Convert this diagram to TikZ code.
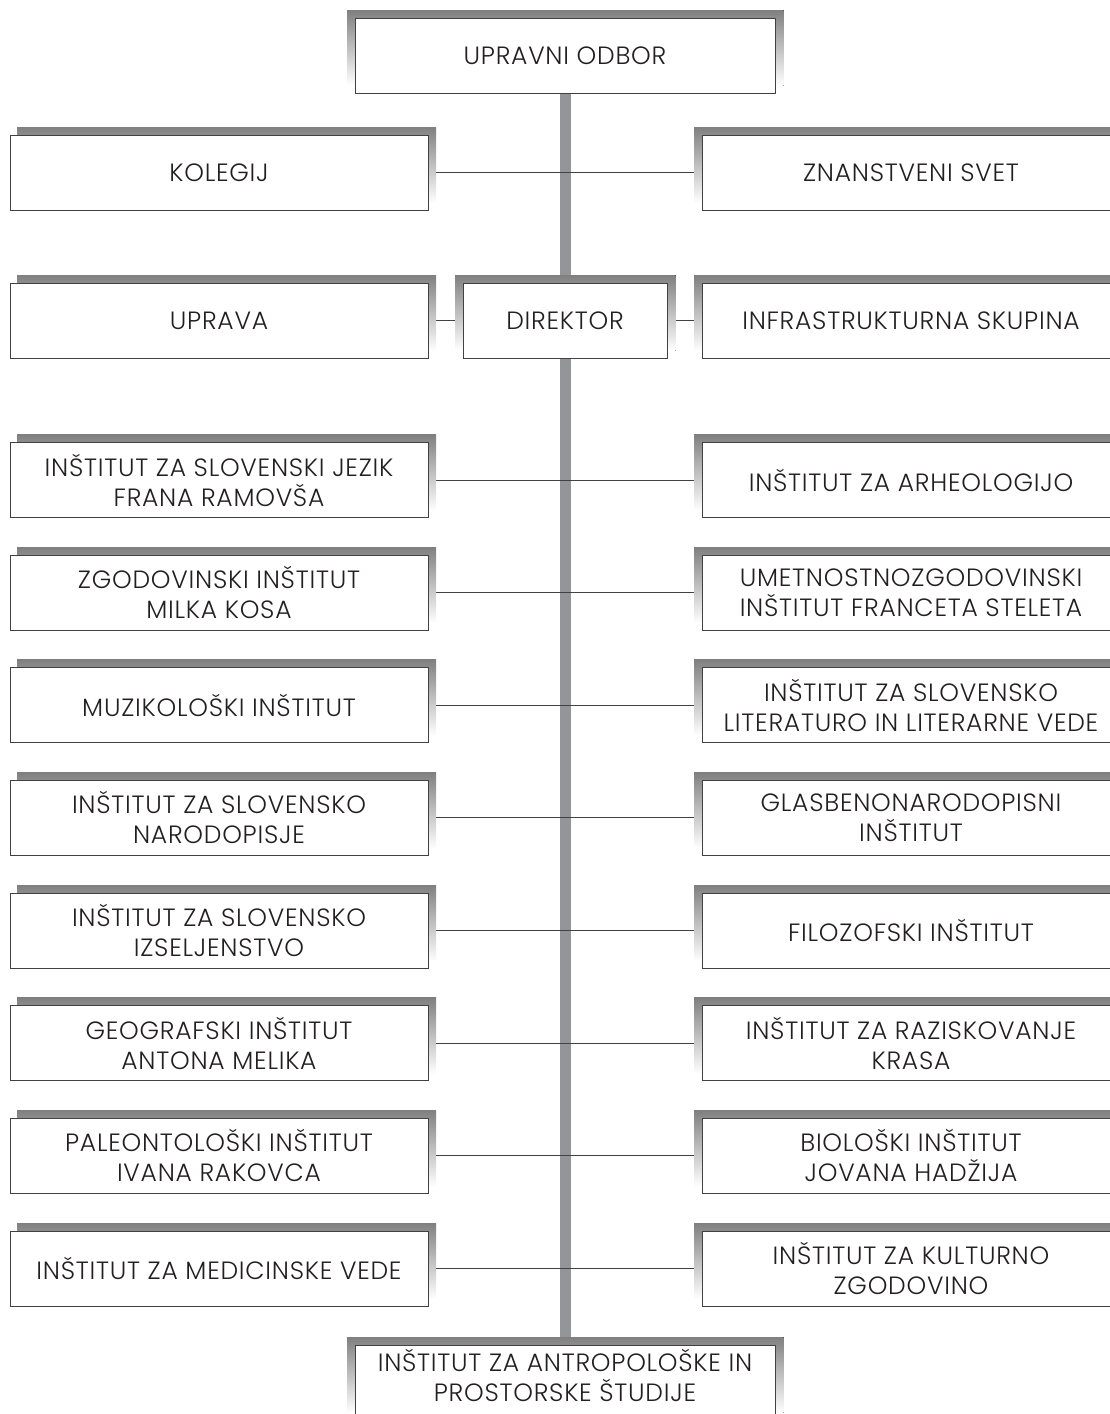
\documentclass[tikz,border=0pt]{standalone}
\usepackage{fontspec}
\setmainfont{Poppins Light}[LetterSpace=3]
\usetikzlibrary{backgrounds}
\definecolor{shade}{HTML}{939598}
\definecolor{boxline}{HTML}{414042}
\definecolor{txt}{HTML}{231F20}
\newcommand{\boxfont}{\fontsize{25}{30}\selectfont}
\tikzset{
  box/.style={draw=boxline, line width=1pt, fill=white, minimum width=418pt,
    minimum height=75pt, inner sep=0pt, align=center, text=txt, font=\boxfont},
  cbox/.style={box, minimum width=420pt},
  dbox/.style={box, minimum width=204pt},
  lbl/.style={inner sep=0pt, align=center, text=txt, font=\boxfont},
  conn/.style={draw=boxline, line width=1pt},
  spine/.style={draw=shade, line width=11pt},
}
\begin{document}
\begin{tikzpicture}[x=1pt,y=-1pt]
\useasboundingbox (0,0) rectangle (1110,1414);
% boxes
\node[cbox] (odbor) at (565,55.5) {UPRAVNI ODBOR};
\node[box] (kolegij) at (219,172.5) {KOLEGIJ};
\node[box] (svet) at (911,172.5) {ZNANSTVENI SVET};
\node[box] (uprava) at (219,320.5) {UPRAVA};
\node[dbox] (direktor) at (565,320.5) {DIREKTOR};
\node[box] (infra) at (911,320.5) {INFRASTRUKTURNA SKUPINA};
\node[box] (l1) at (219,480) {INŠTITUT ZA SLOVENSKI JEZIK\\FRANA RAMOVŠA};
\node[box] (r1) at (911,480) {INŠTITUT ZA ARHEOLOGIJO};
\node[box] (l2) at (219,592.6) {ZGODOVINSKI INŠTITUT\\MILKA KOSA};
\node[box] (r2) at (911,592.6) {UMETNOSTNOZGODOVINSKI\\INŠTITUT FRANCETA STELETA};
\node[box] (l3) at (219,705.3) {MUZIKOLOŠKI INŠTITUT};
\node[box] (r3) at (911,705.3) {INŠTITUT ZA SLOVENSKO\\LITERATURO IN LITERARNE VEDE};
\node[box] (l4) at (219,817.9) {INŠTITUT ZA SLOVENSKO\\NARODOPISJE};
\node[box] (r4) at (911,817.9) {GLASBENONARODOPISNI\\INŠTITUT};
\node[box] (l5) at (219,930.6) {INŠTITUT ZA SLOVENSKO\\IZSELJENSTVO};
\node[box] (r5) at (911,930.6) {FILOZOFSKI INŠTITUT};
\node[box] (l6) at (219,1043.2) {GEOGRAFSKI INŠTITUT\\ANTONA MELIKA};
\node[box] (r6) at (911,1043.2) {INŠTITUT ZA RAZISKOVANJE\\KRASA};
\node[box] (l7) at (219,1155.9) {PALEONTOLOŠKI INŠTITUT\\IVANA RAKOVCA};
\node[box] (r7) at (911,1155.9) {BIOLOŠKI INŠTITUT\\JOVANA HADŽIJA};
\node[box] (l8) at (219,1268.5) {INŠTITUT ZA MEDICINSKE VEDE};
\node[box] (r8) at (911,1268.5) {INŠTITUT ZA KULTURNO\\ZGODOVINO};
\node[cbox] (bottom) at (565,1382.5) {};
\node[lbl] (bottomtext) at (565,1375) {INŠTITUT ZA ANTROPOLOŠKE IN\\PROSTORSKE ŠTUDIJE};
\begin{scope}[on background layer]
  % spine
  \draw[spine] (odbor.south) -- (bottom.north);
  % connectors
  \draw[conn] (kolegij.east) -- (svet.west);
  \draw[conn] (uprava.east) -- (direktor.west);
  \draw[conn] (direktor.east) -- (infra.west);
  \foreach \i in {1,...,8} {
    \draw[conn] (l\i.east) -- (r\i.west);
  }
  % shadows
  \foreach \n in {kolegij,uprava,l1,l2,l3,l4,l5,l6,l7,l8} {
    \fill[shade] ([shift={(7.5,-7.5)}]\n.south west) rectangle ([shift={(7.5,-7.5)}]\n.north east);
  }
  \foreach \n in {svet,infra,r1,r2,r3,r4,r5,r6,r7,r8} {
    \fill[shade] ([shift={(-7.5,-7.5)}]\n.south west) rectangle ([shift={(-7.5,-7.5)}]\n.north east);
  }
  \foreach \n in {odbor,direktor,bottom} {
    \fill[shade] ([shift={(-7.5,-8)}]\n.south west) rectangle ([shift={(8,-7.5)}]\n.north east);
  }
\end{scope}
\end{tikzpicture}
\end{document}
